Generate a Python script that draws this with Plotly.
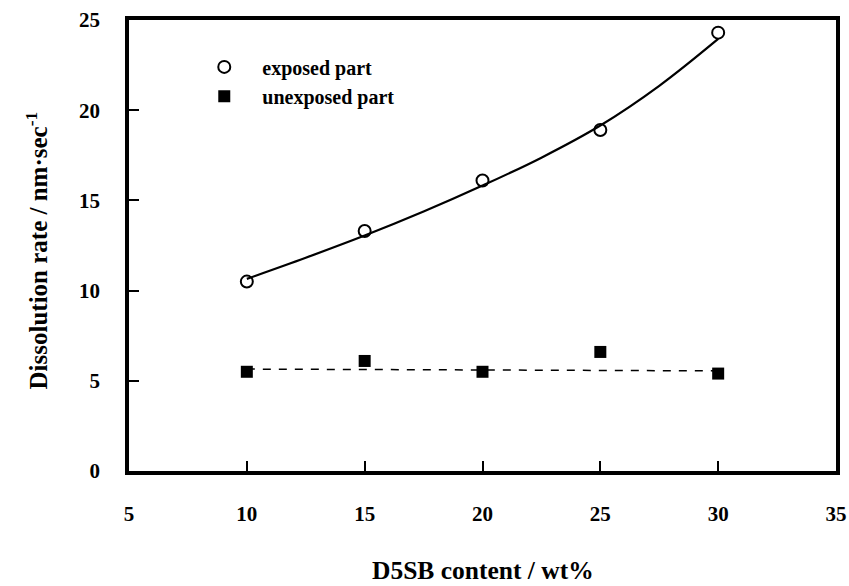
import plotly.graph_objects as go

# Data
content = [10, 15, 20, 25, 30]
exposed = [10.5, 13.3, 16.1, 18.9, 24.3]
unexposed = [5.5, 6.1, 5.5, 6.6, 5.4]

# Trend lines drawn in the reference
exposed_fit_x = [10, 12.5, 15, 17.5, 20, 22.5, 25, 27.5, 30]
exposed_fit_y = [10.65, 11.82, 13.05, 14.38, 15.82, 17.37, 19.15, 21.35, 23.95]
unexposed_fit_x = [10, 30]
unexposed_fit_y = [5.65, 5.55]

x_ticks = [5, 10, 15, 20, 25, 30, 35]
y_ticks = [0, 5, 10, 15, 20, 25]

FONT = "Liberation Serif"

fig = go.Figure()

fig.add_trace(go.Scatter(
    x=exposed_fit_x, y=exposed_fit_y, mode="lines",
    line=dict(color="black", width=2.2, shape="spline", smoothing=1.0),
    showlegend=False, hoverinfo="skip"))
fig.add_trace(go.Scatter(
    x=unexposed_fit_x, y=unexposed_fit_y, mode="lines",
    line=dict(color="black", width=1.5, dash="8px,8px"),
    showlegend=False, hoverinfo="skip"))
fig.add_trace(go.Scatter(
    x=content, y=exposed, mode="markers", name="exposed part",
    marker=dict(symbol="circle-open", size=12, color="black", line=dict(width=2, color="black")),
    legend="legend"))
fig.add_trace(go.Scatter(
    x=content, y=unexposed, mode="markers", name="unexposed part",
    marker=dict(symbol="square", size=12, color="black", line=dict(width=0)),
    legend="legend2"))

axis_common = dict(
    showline=True, linecolor="black", linewidth=3.5, mirror=True,
    ticks="inside", tickcolor="black", tickwidth=2, ticklen=10,
    showgrid=False, zeroline=False, automargin=False,
    tickfont=dict(family=FONT, size=21, color="black", weight="bold"),
)

legend_font = dict(family=FONT, size=20, color="black", weight="bold")

fig.update_layout(
    width=849, height=586,
    margin=dict(l=129, r=13, t=20, b=115),
    plot_bgcolor="white", paper_bgcolor="white",
    xaxis=dict(range=[5, 35], tickvals=x_ticks, ticktext=[str(v) for v in x_ticks],
               ticklabelstandoff=21, **axis_common),
    yaxis=dict(range=[0, 25], tickvals=y_ticks, ticktext=[str(v) for v in y_ticks],
               ticklabelstandoff=21, **axis_common),
    legend=dict(x=0.081, y=0.896, xanchor="left", yanchor="middle", bgcolor="rgba(0,0,0,0)",
                font=legend_font, itemwidth=66),
    legend2=dict(x=0.081, y=0.831, xanchor="left", yanchor="middle", bgcolor="rgba(0,0,0,0)",
                 font=legend_font, itemwidth=66),
    annotations=[
        dict(text="D5SB content / wt%", xref="paper", yref="paper", x=0.5, y=0,
             xanchor="center", yanchor="middle", yshift=-99, showarrow=False,
             font=dict(family=FONT, size=25.5, color="black", weight="bold")),
        dict(text="Dissolution rate / nm·sec<sup>-1</sup>", xref="paper", yref="paper", x=0, y=0.5,
             xanchor="center", yanchor="middle", xshift=-93, yshift=-5, textangle=-90, showarrow=False,
             font=dict(family=FONT, size=25, color="black", weight="bold")),
    ],
)

fig.write_html(
    "out.html",
    config={"displayModeBar": False},
    post_script="document.body.style.margin='0';document.body.style.overflow='hidden';",
)
